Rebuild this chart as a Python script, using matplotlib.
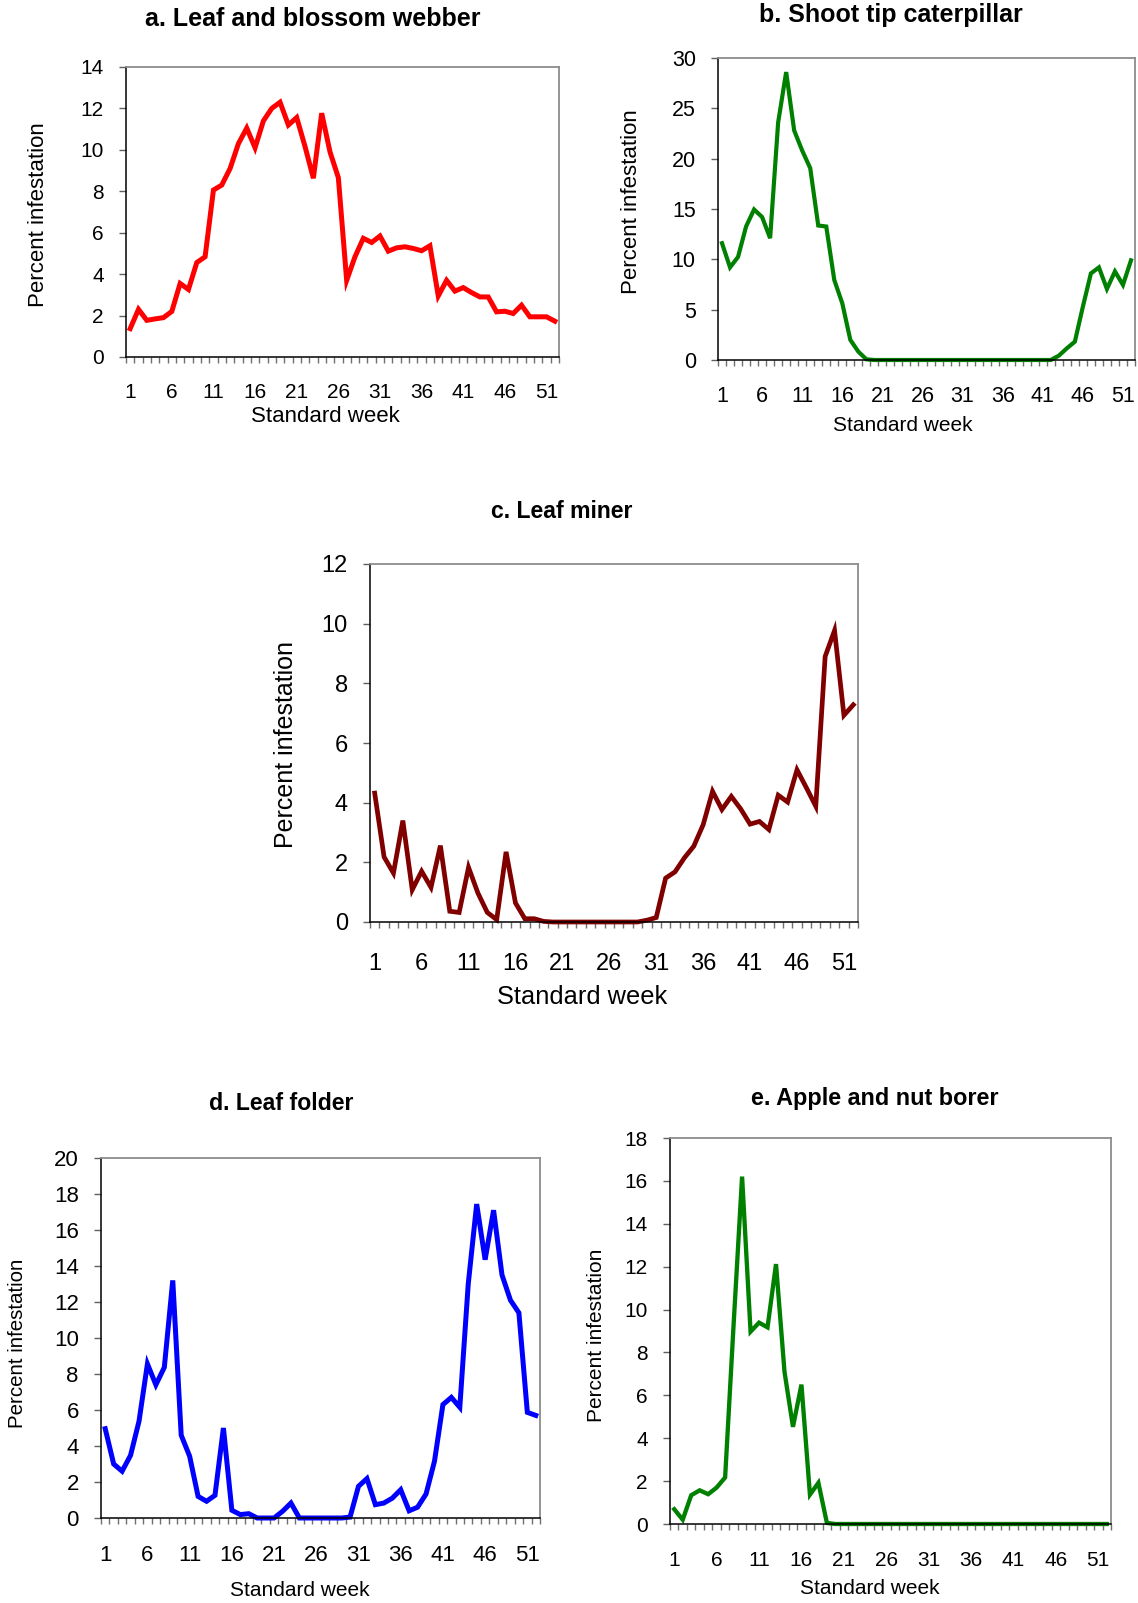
import numpy as np
import matplotlib
matplotlib.use("Agg")
import matplotlib.pyplot as plt

plt.rcParams['font.family'] = ['Liberation Sans', 'DejaVu Sans']

W, H = 1138, 1603

weeks = np.arange(1, 53)
week_labels = [1, 6, 11, 16, 21, 26, 31, 36, 41, 46, 51]

webber = [1.37, 2.3, 1.77, 1.84, 1.9, 2.2, 3.55, 3.26, 4.56, 4.84,
          8.06, 8.3, 9.1, 10.3, 11.05, 10.1, 11.4, 12.0, 12.3, 11.2,
          11.56, 10.16, 8.63, 11.77, 9.9, 8.66, 3.7, 4.84, 5.73, 5.53,
          5.84, 5.11, 5.27, 5.32, 5.24, 5.13, 5.37, 2.95, 3.7, 3.18,
          3.35, 3.11, 2.9, 2.9, 2.18, 2.21, 2.1, 2.5, 1.94, 1.94,
          1.94, 1.73]

shoot_tip = [11.6, 9.2, 10.24, 13.26, 14.95, 14.2, 12.1, 23.6, 28.6, 22.8,
             20.8, 19.06, 13.36, 13.26, 7.95, 5.63, 2.0, 0.83, 0.07] + [0] * 23 + \
            [0.43, 1.16, 1.82, 5.3, 8.6, 9.2, 7.06, 8.8, 7.46, 9.9]

leaf_miner = [4.32, 2.18, 1.64, 3.4, 1.08, 1.7, 1.16, 2.56, 0.36, 0.32,
              1.83, 0.97, 0.32, 0.08, 2.35, 0.64, 0.11, 0.11, 0.02] + [0] * 10 + \
             [0.06, 0.15, 1.47, 1.68, 2.15, 2.54, 3.26, 4.38, 3.77, 4.21,
              3.79, 3.28, 3.37, 3.1, 4.25, 4.02, 5.1, 4.5, 3.88, 8.9,
              9.77, 6.93, 7.28]

leaf_folder = [4.96, 3.0, 2.6, 3.48, 5.37, 8.56, 7.4, 8.37, 13.2, 4.6,
               3.43, 1.2, 0.93, 1.26, 5.0, 0.43, 0.19, 0.24, 0, 0,
               0, 0.37, 0.83, 0, 0, 0, 0, 0, 0, 0.05,
               1.76, 2.19, 0.74, 0.83, 1.1, 1.57, 0.4, 0.6, 1.33, 3.15,
               6.3, 6.7, 6.15, 13.0, 17.44, 14.35, 17.1, 13.5, 12.1, 11.4,
               5.87, 5.7]

borer = [0.69, 0.2, 1.34, 1.57, 1.39, 1.7, 2.17, 9.3, 16.2, 8.97,
         9.39, 9.17, 12.12, 7.1, 4.53, 6.5, 1.37, 1.92, 0.05] + [0] * 33

fig = plt.figure(figsize=(W / 100, H / 100), dpi=100)


def fx(x):
    return x / W


def fy(y):
    return 1 - y / H


def panel(data, color, lw, box, ymax, ystep, title, title_pos, ylab_pos, xlab_pos,
          tick_fs, xlab_fs, ylab_fs, title_fs, xpad):
    left, top, right, bottom = box
    ax = fig.add_axes([fx(left), fy(bottom), fx(right - left), (bottom - top) / H])
    ax.plot(weeks, data, color=color, lw=lw, solid_joinstyle='miter', clip_on=False)
    ax.set_xlim(0.5, 52.5)
    ax.set_ylim(0, ymax)
    ax.set_yticks(np.arange(0, ymax + 0.1, ystep))
    ax.set_xticks(week_labels)
    ax.set_xticks(np.arange(0.5, 53, 1), minor=True)
    ax.tick_params(axis='x', which='major', length=0, pad=xpad, labelsize=tick_fs)
    ax.tick_params(axis='x', which='minor', length=4, width=1, color='#707070', direction='out')
    ax.tick_params(axis='y', length=5, width=1, color='#606060', direction='out',
                   pad=11, labelsize=tick_fs)
    for s in ['left', 'bottom']:
        ax.spines[s].set_color('black')
        ax.spines[s].set_linewidth(1.1)
    for s in ['top', 'right']:
        ax.spines[s].set_color('#8c8c8c')
        ax.spines[s].set_linewidth(1.3)
    fig.text(fx(title_pos[0]), fy(title_pos[1]), title, ha='center', va='center',
             fontsize=title_fs, fontweight='bold')
    fig.text(fx(ylab_pos[0]), fy(ylab_pos[1]), 'Percent infestation', rotation=90,
             ha='center', va='center', fontsize=ylab_fs)
    fig.text(fx(xlab_pos[0]), fy(xlab_pos[1]), 'Standard week', ha='center', va='center',
             fontsize=xlab_fs)
    return ax


panel(webber, '#ff0000', 3.6, (126, 67, 559, 357), 14, 2, 'a. Leaf and blossom webber',
      (313, 19), (39, 215), (325, 417), 15, 16, 16, 18, 19)
panel(shoot_tip, '#008000', 3.0, (718, 58, 1135, 360), 30, 5, 'b. Shoot tip caterpillar',
      (891, 15), (631, 202), (903, 426), 15.5, 15, 16, 18, 19)
panel(leaf_miner, '#800000', 3.4, (370, 564, 858, 922), 12, 2, 'c. Leaf miner',
      (562, 512), (286, 745), (582, 997), 17, 18.3, 18, 16.6, 22.5)
panel(leaf_folder, '#0000ff', 3.6, (101, 1158, 540, 1518), 20, 2, 'd. Leaf folder',
      (281, 1103), (18, 1343), (300, 1590), 16, 15, 14.8, 16.6, 19.5)
panel(borer, '#008000', 3.1, (670, 1138, 1111, 1524), 18, 2, 'e. Apple and nut borer',
      (875, 1099), (597, 1335), (870, 1589), 15, 15, 15, 16.8, 19.5)

fig.savefig('out.png', dpi=100)
